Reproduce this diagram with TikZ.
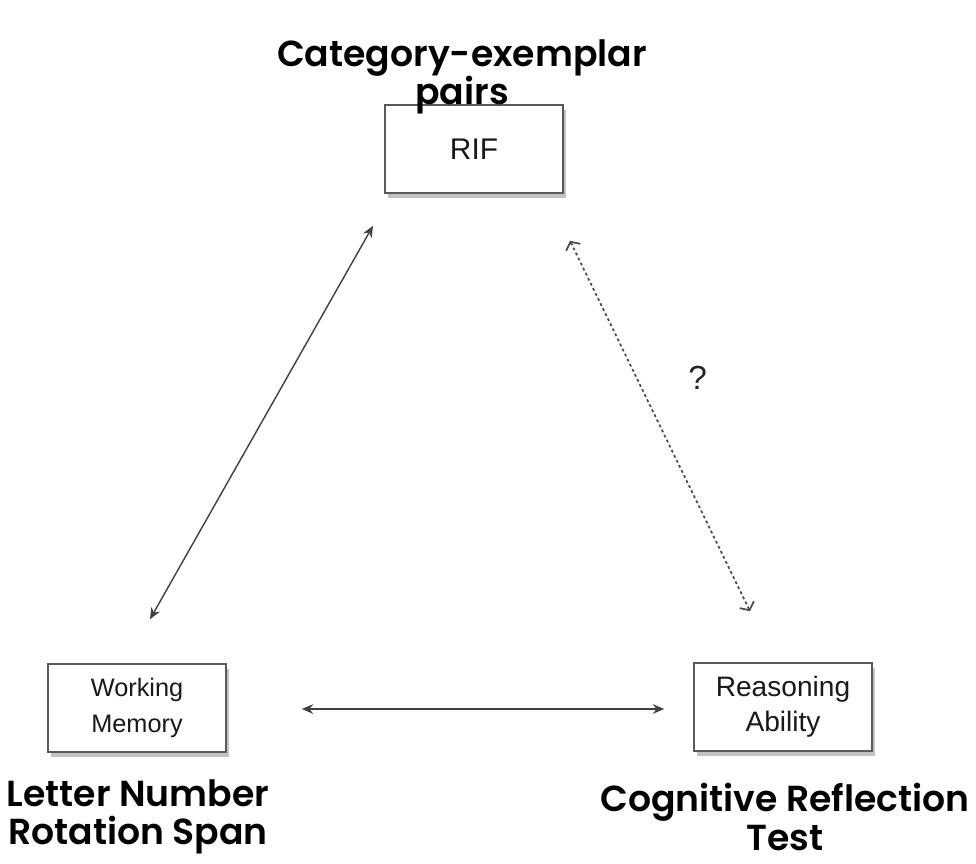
\documentclass[tikz,border=0pt]{standalone}
\usepackage{fontspec}
\setmainfont{Liberation Sans}
\newfontfamily\headfont{Poppins}[BoldFont={Poppins SemiBold}]
\usetikzlibrary{positioning,arrows.meta,shadows}

\tikzset{
  measure/.style={draw=black!65, line width=0.9pt, fill=white, minimum width=3.56cm, minimum height=1.76cm,
    align=center, text=black!90, font=\fontsize{14.4pt}{20.5pt}\selectfont,
    drop shadow={shadow xshift=1.5pt, shadow yshift=-3pt, fill=black!40, opacity=0.6}},
  task/.style={align=center, font=\headfont\bfseries\fontsize{20.6pt}{22pt}\selectfont},
  link/.style={draw=black!75, line width=0.8pt, {Stealth[length=6.5pt,width=5.5pt]}-{Stealth[length=6.5pt,width=5.5pt]}},
  maybe/.style={draw=black!70, line width=1pt, dash pattern=on 1.6pt off 1.6pt,
    {Straight Barb[length=3.5pt,width=9pt]}-{Straight Barb[length=3.5pt,width=9pt]}}
}

\begin{document}
\begin{tikzpicture}[x=0.02cm, y=-0.02cm]
    \useasboundingbox (0,0) rectangle (976,863);
    \node[measure, font=\fontsize{17pt}{20pt}\selectfont] (rif) at (474,149) {RIF};
    \node[measure] (wm) at (137,708) {Working\\Memory};
    \node[measure, font=\fontsize{16pt}{20pt}\selectfont] (ra) at (783,707) {Reasoning\\Ability};
    %
    \node[task] (rif_task) at (462,77) {Category-exemplar\\pairs};
    \node[task] (wm_task) at (138,817) {Letter Number\\Rotation Span};
    \node[task] (ra_task) at (785,817) {Cognitive Reflection\\Test};
    %
    \draw[link] ([shift={(13,-44)}]wm.north) -- ([shift={(-101,32)}]rif.south);
    \draw[link] ([shift={(75,1)}]wm.east) -- ([shift={(-29,2)}]ra.west);
    \draw[maybe] ([shift={(96,47)}]rif.south) -- node[pos=0.37, right=0.9cm, font=\fontsize{19pt}{20pt}\selectfont, text=black!85]{?} ([shift={(-33,-51)}]ra.north);
\end{tikzpicture}
\end{document}
